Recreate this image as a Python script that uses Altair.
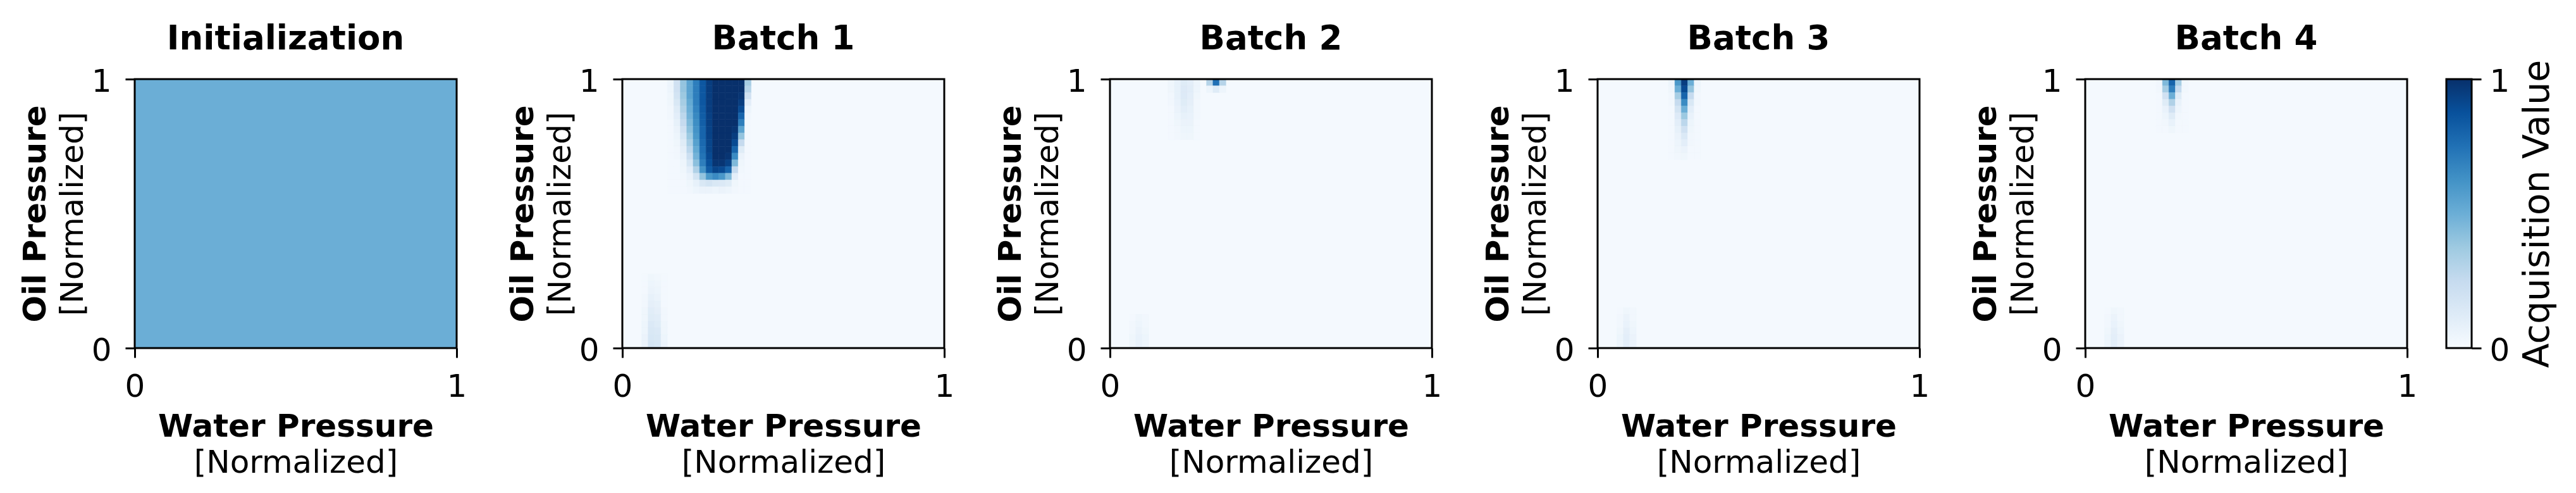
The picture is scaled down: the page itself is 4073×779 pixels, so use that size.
import altair as alt
import pandas as pd

FONT = "DejaVu Sans"
TITLES = ["Initialization", "Batch 1", "Batch 2", "Batch 3", "Batch 4"]
TITLE_DX = [-16, 0, 0, 0, 0]
BACKGROUND = [0.5, 0.015, 0.015, 0.015, 0.015]
BLUES = ["#f7fbff", "#deebf7", "#c6dbef", "#9ecae1", "#6baed6",
         "#4292c6", "#2171b5", "#08519c", "#08306b"]
STOPS = [0, 0.125, 0.25, 0.375, 0.5, 0.625, 0.75, 0.875, 1]
TICKS = [0, 1]
CELL_W = 0.02
CELL_H = 0.025

# Batch 1: main blob (columns from x=0.14, rows from y=1.0 downward)
B1_BLOB_X0, B1_BLOB_Y1 = 0.14, 1.0
B1_BLOB = [
    [0.05, 0.20, 0.40, 0.55, 0.70, 0.85, 0.95, 1, 1, 1, 1, 1, 0.35],
    [0.05, 0.20, 0.40, 0.55, 0.70, 0.85, 0.95, 1, 1, 1, 1, 1, 0.30],
    [0.04, 0.18, 0.38, 0.55, 0.70, 0.85, 0.95, 1, 1, 1, 1, 0.98, 0.20],
    [0.04, 0.15, 0.35, 0.52, 0.70, 0.85, 0.95, 1, 1, 1, 1, 0.95, 0.10],
    [0.03, 0.12, 0.32, 0.50, 0.68, 0.84, 0.95, 1, 1, 1, 1, 0.90, 0.05],
    [0.03, 0.10, 0.28, 0.48, 0.66, 0.83, 0.94, 1, 1, 1, 1, 0.80, 0.03],
    [0.02, 0.08, 0.25, 0.45, 0.64, 0.82, 0.94, 1, 1, 1, 1, 0.70, 0.02],
    [0.02, 0.06, 0.20, 0.42, 0.62, 0.80, 0.93, 1, 1, 1, 0.98, 0.55, 0.02],
    [0.02, 0.05, 0.16, 0.38, 0.60, 0.80, 0.93, 1, 1, 1, 0.95, 0.40, 0.02],
    [0.02, 0.04, 0.12, 0.33, 0.56, 0.78, 0.92, 1, 1, 1, 0.90, 0.25, 0.02],
    [0.02, 0.03, 0.09, 0.28, 0.52, 0.76, 0.92, 1, 1, 1, 0.80, 0.12, 0.02],
    [0.02, 0.03, 0.07, 0.22, 0.48, 0.74, 0.90, 1, 1, 0.98, 0.65, 0.06, 0.02],
    [0.02, 0.02, 0.05, 0.16, 0.42, 0.70, 0.88, 0.98, 0.98, 0.93, 0.45, 0.04, 0.02],
    [0.02, 0.02, 0.04, 0.10, 0.32, 0.62, 0.84, 0.92, 0.90, 0.80, 0.25, 0.03, 0.02],
    [0.02, 0.02, 0.03, 0.06, 0.18, 0.40, 0.60, 0.65, 0.60, 0.45, 0.10, 0.02, 0.02],
    [0.02, 0.02, 0.02, 0.04, 0.08, 0.15, 0.18, 0.15, 0.14, 0.12, 0.04, 0.02, 0.02],
    [0.02, 0.02, 0.02, 0.03, 0.05, 0.06, 0.06, 0.05, 0.06, 0.05, 0.03, 0.02, 0.02],
]
# Batch 1: faint streak near the bottom left
B1_STREAK_X0, B1_STREAK_Y1 = 0.06, 0.275
B1_STREAK = [
    [0.02, 0.04, 0.03, 0.02],
    [0.02, 0.05, 0.04, 0.02],
    [0.02, 0.06, 0.05, 0.02],
    [0.03, 0.08, 0.06, 0.02],
    [0.03, 0.09, 0.08, 0.02],
    [0.04, 0.11, 0.09, 0.03],
    [0.04, 0.12, 0.11, 0.03],
    [0.05, 0.14, 0.12, 0.04],
    [0.05, 0.15, 0.14, 0.04],
    [0.06, 0.16, 0.15, 0.05],
    [0.06, 0.17, 0.16, 0.06],
]
# Batch 2
B2_SPOT_X0, B2_SPOT_Y1 = 0.30, 1.0
B2_SPOT = [
    [0.30, 0.75, 0.30],
    [0.05, 0.12, 0.05],
]
B2_WEDGE_X0, B2_WEDGE_Y1 = 0.18, 1.0
B2_WEDGE = [
    [0.04, 0.08, 0.12, 0.10, 0.05],
    [0.04, 0.08, 0.13, 0.11, 0.05],
    [0.03, 0.08, 0.13, 0.10, 0.04],
    [0.03, 0.07, 0.12, 0.09, 0.03],
    [0.02, 0.06, 0.10, 0.08, 0.03],
    [0.02, 0.05, 0.08, 0.07, 0.03],
    [0.02, 0.04, 0.06, 0.06, 0.02],
    [0.02, 0.03, 0.05, 0.05, 0.02],
    [0.02, 0.03, 0.04, 0.04, 0.02],
]
B2_STREAK_X0, B2_STREAK_Y1 = 0.06, 0.125
B2_STREAK = [
    [0.02, 0.04, 0.03],
    [0.03, 0.05, 0.03],
    [0.03, 0.06, 0.04],
    [0.04, 0.07, 0.05],
    [0.04, 0.07, 0.05],
]
# Batch 3
B3_WEDGE_X0, B3_WEDGE_Y1 = 0.22, 1.0
B3_WEDGE = [
    [0.05, 0.60, 0.95, 0.50, 0.05],
    [0.04, 0.50, 0.90, 0.40, 0.04],
    [0.03, 0.35, 0.80, 0.25, 0.03],
    [0.03, 0.25, 0.65, 0.15, 0.03],
    [0.02, 0.18, 0.50, 0.10, 0.02],
    [0.02, 0.13, 0.38, 0.07, 0.02],
    [0.02, 0.10, 0.28, 0.05, 0.02],
    [0.02, 0.08, 0.20, 0.04, 0.02],
    [0.02, 0.06, 0.14, 0.03, 0.02],
    [0.02, 0.05, 0.10, 0.03, 0.02],
    [0.02, 0.04, 0.06, 0.02, 0.02],
    [0.02, 0.03, 0.04, 0.02, 0.02],
]
B3_STREAK_X0, B3_STREAK_Y1 = 0.06, 0.15
B3_STREAK = [
    [0.02, 0.04, 0.03],
    [0.03, 0.06, 0.03],
    [0.03, 0.07, 0.04],
    [0.04, 0.09, 0.05],
    [0.05, 0.10, 0.06],
    [0.05, 0.10, 0.06],
]
# Batch 4
B4_SPOT_X0, B4_SPOT_Y1 = 0.22, 1.0
B4_SPOT = [
    [0.03, 0.45, 0.80, 0.35, 0.03],
    [0.03, 0.35, 0.70, 0.25, 0.03],
    [0.02, 0.20, 0.50, 0.12, 0.02],
    [0.02, 0.12, 0.32, 0.07, 0.02],
    [0.02, 0.07, 0.20, 0.05, 0.02],
    [0.02, 0.05, 0.12, 0.03, 0.02],
    [0.02, 0.03, 0.07, 0.02, 0.02],
    [0.02, 0.02, 0.04, 0.02, 0.02],
]
B4_STREAK_X0, B4_STREAK_Y1 = 0.06, 0.15
B4_STREAK = [
    [0.02, 0.04, 0.03],
    [0.03, 0.06, 0.03],
    [0.03, 0.07, 0.04],
    [0.04, 0.09, 0.05],
    [0.05, 0.10, 0.06],
    [0.05, 0.10, 0.06],
]

PATCHES = [
    [],
    [(B1_BLOB_X0, B1_BLOB_Y1, B1_BLOB), (B1_STREAK_X0, B1_STREAK_Y1, B1_STREAK)],
    [(B2_SPOT_X0, B2_SPOT_Y1, B2_SPOT), (B2_WEDGE_X0, B2_WEDGE_Y1, B2_WEDGE),
     (B2_STREAK_X0, B2_STREAK_Y1, B2_STREAK)],
    [(B3_WEDGE_X0, B3_WEDGE_Y1, B3_WEDGE), (B3_STREAK_X0, B3_STREAK_Y1, B3_STREAK)],
    [(B4_SPOT_X0, B4_SPOT_Y1, B4_SPOT), (B4_STREAK_X0, B4_STREAK_Y1, B4_STREAK)],
]


def cells(patches):
    out = []
    for x0, y1, rows in patches:
        for r, row in enumerate(rows):
            for c, v in enumerate(row):
                out.append({"x": x0 + c * CELL_W, "x2": x0 + (c + 1) * CELL_W,
                            "y": y1 - (r + 1) * CELL_H, "y2": y1 - r * CELL_H, "v": v})
    return pd.DataFrame(out, columns=["x", "x2", "y", "y2", "v"])


W, H = 509, 425
cscale = alt.Scale(domain=STOPS, range=BLUES, interpolate="rgb", clamp=True)
pscale = alt.Scale(domain=[0, 1], nice=False, zero=False)


def main_axis(orient, title):
    common = dict(orient=orient, values=TICKS, format="d", labelFontSize=50,
                  labelFont=FONT, labelColor="black", labelFlush=False,
                  tickSize=15, tickWidth=3, tickColor="black", domain=False,
                  grid=False, title=title, titleFont=FONT, titleColor="black",
                  titleFontSize=50, titleLimit=2000, zindex=1, minExtent=0)
    if orient == "bottom":
        return alt.Axis(labelPadding=21, titleFontWeight="bold", titlePadding=13, **common)
    return alt.Axis(labelPadding=22, labelOffset=4, titleFontWeight="normal",
                    titlePadding=4, **common)


def title_axis(orient, title, weight, pad):
    return alt.Axis(orient=orient, labels=False, ticks=False, domain=False, grid=False,
                    title=title, titleFont=FONT, titleFontSize=50, titleColor="black",
                    titleFontWeight=weight, titlePadding=pad, titleLimit=2000,
                    minExtent=0, maxExtent=0)


def panel(i):
    bg = pd.DataFrame({"x": [0.0], "x2": [1.0], "y": [0.0], "y2": [1.0],
                       "v": [BACKGROUND[i]]})
    cdf = cells(PATCHES[i])
    base = alt.Chart(bg).mark_rect().encode(
        x=alt.X("x:Q", scale=pscale, axis=main_axis("bottom", "Water Pressure")),
        x2="x2:Q",
        y=alt.Y("y:Q", scale=pscale, axis=main_axis("left", "[Normalized]")),
        y2="y2:Q",
        color=alt.Color("v:Q", scale=cscale, legend=None),
    )
    heat = alt.Chart(cdf).mark_rect(strokeWidth=0.6).encode(
        x=alt.X("x:Q", scale=pscale,
                axis=title_axis("bottom", "[Normalized]", "normal", 156)),
        x2="x2:Q",
        y=alt.Y("y:Q", scale=pscale,
                axis=title_axis("left", "Oil Pressure", "bold", 132)),
        y2="y2:Q",
        color=alt.Color("v:Q", scale=cscale, legend=None),
        stroke=alt.Stroke("v:Q", scale=cscale, legend=None),
    )
    frame = alt.Chart(bg).mark_rect(fillOpacity=0, stroke="black", strokeWidth=3).encode(
        x=alt.X("x:Q", scale=pscale, axis=None), x2="x2:Q",
        y=alt.Y("y:Q", scale=pscale, axis=None), y2="y2:Q",
    )
    return alt.layer(base, heat, frame).resolve_axis(x="independent", y="independent").properties(
        width=W, height=H,
        title=alt.TitleParams(TITLES[i], font=FONT, fontSize=53, fontWeight="bold",
                              color="black", anchor="middle", frame="group",
                              baseline="alphabetic", offset=-27, dx=TITLE_DX[i]),
    )


cb_df = pd.DataFrame({"x": [0.0], "x2": [1.0], "y": [0.0], "y2": [1.0]})
grad = alt.Gradient(gradient="linear",
                    stops=[alt.GradientStop(offset=s, color=c) for s, c in zip(STOPS, BLUES)],
                    x1=0, x2=0, y1=1, y2=0)
colorbar = alt.Chart(cb_df).mark_rect(fill=grad, stroke="black", strokeWidth=3).encode(
    x=alt.X("x:Q", scale=pscale, axis=None), x2="x2:Q",
    y=alt.Y("y:Q", scale=pscale,
            axis=alt.Axis(orient="right", values=TICKS, format="d", labelFontSize=50,
                          labelFont=FONT, labelColor="black", labelFlush=False,
                          labelPadding=13, labelOffset=4, tickSize=15, tickWidth=3,
                          tickColor="black", domain=False, grid=False,
                          title="Acquisition Value", titleFont=FONT, titleFontSize=57,
                          titleFontWeight="normal", titleColor="black", titleAngle=270,
                          titleBaseline="top", titlePadding=17, titleLimit=2000,
                          minExtent=0)),
    y2="y2:Q",
).properties(width=40, height=H)

panels = alt.hconcat(*[panel(i) for i in range(5)], spacing=262, bounds="flush")
# the nested panel group reports no width of its own, so the spacing is measured
# from the left edge of the first plot to the colour bar
chart = alt.hconcat(panels, colorbar, spacing=3655, bounds="flush").properties(
    padding={"left": 22, "top": 27, "right": 5, "bottom": 5},
    background="white",
).configure_view(stroke=None).configure(font=FONT)

chart.save("out.html", embed_options={"renderer": "svg", "actions": False})
